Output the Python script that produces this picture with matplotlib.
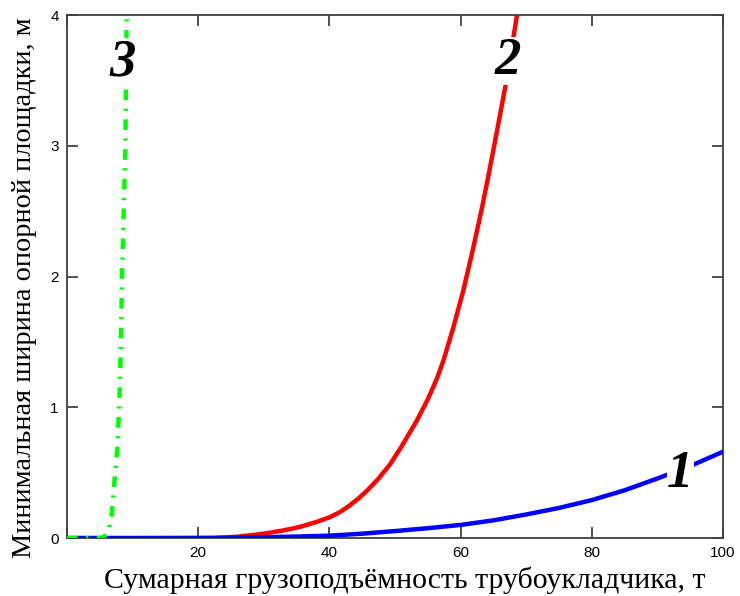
import matplotlib
matplotlib.use("Agg")
import matplotlib.pyplot as plt

# curve 1 (blue)
x1 = [0, 10, 20, 25, 30, 35, 40, 45, 50, 55, 60, 65, 70, 75, 80, 85, 90, 95, 100]
y1 = [0, 0, 0.001, 0.003, 0.006, 0.011, 0.018, 0.033, 0.053, 0.075, 0.10, 0.135, 0.18, 0.23, 0.29, 0.365, 0.455, 0.55, 0.66]

# curve 2 (red)
x2 = [23, 26, 30, 33, 35.5, 38, 40, 41.5, 43, 44.5, 45.7, 47.5, 49.2, 51, 53.3, 55, 56.4,
      57.4, 58.9, 60.4, 61.8, 63.2, 64.2, 65.2, 66.1, 67, 67.8, 68.6]
y2 = [0, 0.01, 0.033, 0.058, 0.085, 0.122, 0.158, 0.195, 0.245, 0.305, 0.36, 0.455, 0.56, 0.70, 0.895, 1.06, 1.22,
      1.36, 1.61, 1.89, 2.19, 2.51, 2.76, 3.02, 3.26, 3.5, 3.75, 4.0]

# curve 3 (green)
x3 = [0, 5.5, 6.3, 6.8, 7.3, 7.7, 8.1, 8.4, 8.9, 9.1]
y3 = [0, 0, 0.05, 0.16, 0.47, 0.70, 1.21, 2.0, 3.0, 4.0]

curve_labels = ["1", "2", "3"]
label_pos = [(93.5, 0.49), (67.2, 3.65), (8.5, 3.64)]

fig = plt.figure(figsize=(7.4, 5.96), dpi=100)
ax = fig.add_axes([0.0905, 0.0973, 0.8865, 0.8775])

ax.plot(x2, y2, color="#ff0000", lw=3.2, zorder=2)
ax.plot(x1, y1, color="#0000ff", lw=3.2, zorder=3)
ax.plot(x3, y3, color="#00ff00", lw=3.2, zorder=4,
        linestyle=(0, (2.4, 1.9, 0.5, 1.9)))

for txt, (lx, ly) in zip(curve_labels, label_pos):
    ax.text(lx, ly, txt, fontsize=38, fontweight="bold", fontstyle="italic",
            family="Liberation Serif", ha="center", va="center", zorder=5,
            bbox=dict(facecolor="white", edgecolor="none", pad=0))

ax.set_xlim(0, 100)
ax.set_ylim(0, 4)
ax.set_xticks([0, 20, 40, 60, 80, 100])
ax.set_xticklabels(["", "20", "40", "60", "80", "100"])
ax.set_yticks([0, 1, 2, 3, 4])
ax.tick_params(direction="in", length=8, width=1.2, color="#333333",
               top=True, right=True, labelsize=11, pad=6)
for lab in ax.get_xticklabels() + ax.get_yticklabels():
    lab.set_family("Liberation Sans")
for sp in ax.spines.values():
    sp.set_color("#404040")
    sp.set_linewidth(1.3)

ax.set_xlabel("Сумарная грузоподъёмность трубоукладчика, т",
              family="Liberation Serif", fontsize=21.5)
ax.set_ylabel("Минимальная ширина опорной площадки, м",
              family="Liberation Serif", fontsize=20.4)
ax.xaxis.set_label_coords(0.515, -0.055)
ax.yaxis.set_label_coords(-0.046, 0.478)

fig.savefig("out.png", dpi=100)
